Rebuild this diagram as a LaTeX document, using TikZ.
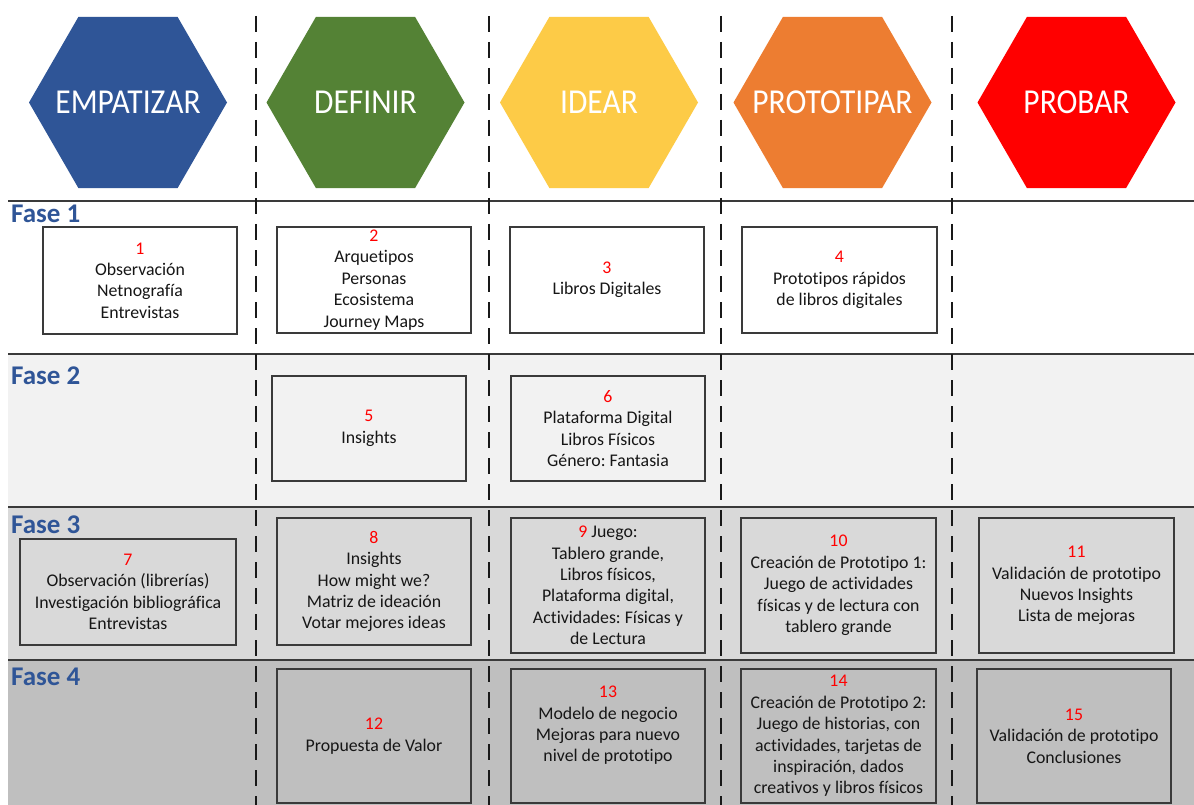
\documentclass[tikz,border=0pt]{standalone}
\usepackage{fontspec}
\setmainfont{Carlito}[Ligatures=NoCommon]
\newfontfamily\hexfont[FakeStretch=0.9]{Carlito}
\usetikzlibrary{shapes.geometric}
\definecolor{cblue}{HTML}{2F5597}
\definecolor{cgreen}{HTML}{548235}
\definecolor{cyellow}{HTML}{FDCB47}
\definecolor{corange}{HTML}{ED7D31}
\definecolor{cred}{HTML}{FF0000}
\definecolor{rowtwo}{HTML}{F2F2F2}
\definecolor{rowthree}{HTML}{D9D9D9}
\definecolor{rowfour}{HTML}{BFBFBF}
\definecolor{lineg}{HTML}{3A3A3A}
\definecolor{txtc}{HTML}{161616}
\newcommand\numr[1]{\textcolor{cred}{#1}}
\tikzset{
  hexa/.style={regular polygon, regular polygon sides=6, minimum size=198pt, inner sep=0pt},
  hext/.style={inner sep=0pt, text=white, font=\hexfont\fontsize{35}{35}\selectfont},
  boxn/.style={draw=lineg, line width=1.6pt, rectangle, inner sep=0pt, align=center, text=txtc, font=\frenchspacing\fontsize{17.8}{21.4}\selectfont},
  txtn/.style={inner sep=0pt, align=center, text=txtc, font=\frenchspacing\fontsize{17.8}{21.4}\selectfont},
  fase/.style={anchor=base west, inner sep=0pt, text=cblue, font=\fontsize{27}{27}\selectfont\bfseries},
  rowline/.style={draw=lineg, line width=2pt},
  colline/.style={draw=black!90, line width=2.4pt, dash pattern=on 16pt off 10pt}
}
\begin{document}
\begin{tikzpicture}[x=1pt,y=-1pt]
\useasboundingbox (0,0) rectangle (1194,805);
% row backgrounds
\fill[white] (0,0) rectangle (1194,805);
\fill[white] (8,201) rectangle (1194,354);
\fill[rowtwo] (8,354) rectangle (1194,507);
\fill[rowthree] (8,507) rectangle (1194,660);
\fill[rowfour] (8,660) rectangle (1194,805);
% row lines
\coordinate (r1l) at (8,201); \coordinate (r1r) at (1194,201);
\coordinate (r2l) at (8,354); \coordinate (r2r) at (1194,354);
\coordinate (r3l) at (8,507); \coordinate (r3r) at (1194,507);
\coordinate (r4l) at (8,660); \coordinate (r4r) at (1194,660);
\draw[rowline] (r1l) -- (r1r);
\draw[rowline] (r2l) -- (r2r);
\draw[rowline] (r3l) -- (r3r);
\draw[rowline] (r4l) -- (r4r);
% column dashed lines
\coordinate (c1t) at (256,16); \coordinate (c1b) at (256,805);
\coordinate (c2t) at (489,16); \coordinate (c2b) at (489,805);
\coordinate (c3t) at (721,16); \coordinate (c3b) at (721,805);
\coordinate (c4t) at (952,16); \coordinate (c4b) at (952,805);
\draw[colline] (c1t) -- (c1b);
\draw[colline] (c2t) -- (c2b);
\draw[colline] (c3t) -- (c3b);
\draw[colline] (c4t) -- (c4b);
% hexagons
\node[hexa, fill=cblue] (h1) at (128,102.5) {};
\node[hexa, fill=cgreen] (h2) at (365.5,102.5) {};
\node[hexa, fill=cyellow] (h3) at (599,102.5) {};
\node[hexa, fill=corange] (h4) at (832.5,102.5) {};
\node[hexa, fill=cred] (h5) at (1076.5,102.5) {};
\node[hext] (ht1) at (h1.center) {EMPATIZAR};
\node[hext] (ht2) at (h2.center) {DEFINIR};
\node[hext] (ht3) at (h3.center) {IDEAR};
\node[hext] (ht4) at (h4.center) {PROTOTIPAR};
\node[hext] (ht5) at (h5.center) {PROBAR};
% phase labels
\node[fase] (f1) at (11,223) {Fase 1};
\node[fase] (f2) at (11,384) {Fase 2};
\node[fase] (f3) at (11,533) {Fase 3};
\node[fase] (f4) at (11,685) {Fase 4};
% Fase 1 boxes
\node[boxn, minimum width=194pt, minimum height=107pt] (b1) at (140,280.5) {\numr{1}\\Observación\\Netnografía\\Entrevistas};
\node[boxn, minimum width=194pt, minimum height=106pt] (b2) at (374,280) {\numr{2}\\Arquetipos\\Personas\\Ecosistema\\Journey Maps};
\node[boxn, minimum width=194pt, minimum height=106pt] (b3) at (607,280) {\numr{3}\\Libros Digitales};
\node[boxn, minimum width=195pt, minimum height=106pt] (b4) at (839.5,280) {\numr{4}\\Prototipos rápidos\\de libros digitales};
% Fase 2 boxes
\node[boxn, minimum width=194pt, minimum height=105pt] (b5) at (369,428.5) {\numr{5}\\Insights};
\node[boxn, minimum width=194pt, minimum height=105pt] (b6) at (608,428.5) {\numr{6}\\Plataforma Digital\\Libros Físicos\\Género: Fantasia};
% Fase 3 boxes
\node[boxn, minimum width=216pt, minimum height=106pt] (b7) at (128,592) {\numr{7}\\Observación (librerías)\\Investigación bibliográfica\\Entrevistas};
\node[boxn, minimum width=194pt, minimum height=127pt] (b8) at (374,581.5) {\numr{8}\\Insights\\How might we?\\Matriz de ideación\\Votar mejores ideas};
\node[boxn, minimum width=194pt, minimum height=135pt] (b9) at (608,585.5) {\numr{9} Juego:\\Tablero grande,\\Libros físicos,\\Plataforma digital,\\Actividades: Físicas y\\de Lectura};
\node[boxn, minimum width=195pt, minimum height=135pt] (b10) at (838.5,585.5) {\numr{10}\\Creación de Prototipo 1:\\Juego de actividades\\físicas y de lectura con\\tablero grande};
\node[boxn, minimum width=195pt, minimum height=135pt] (b11) at (1076.5,585.5) {\numr{11}\\Validación de prototipo\\Nuevos Insights\\Lista de mejoras};
% Fase 4 boxes
\node[boxn, minimum width=194pt, minimum height=134pt] (b12) at (374,736) {\numr{12}\\Propuesta de Valor};
\node[boxn, minimum width=194pt, minimum height=134pt] (b13) at (608,736) {};
\node[txtn] (t13) at (608,725.5) {\numr{13}\\Modelo de negocio\\Mejoras para nuevo\\nivel de prototipo};
\node[boxn, minimum width=195pt, minimum height=134pt] (b14) at (838.5,736) {\numr{14}\\Creación de Prototipo 2:\\Juego de historias, con\\actividades, tarjetas de\\inspiración, dados\\creativos y libros físicos};
\node[boxn, minimum width=194pt, minimum height=134pt] (b15) at (1074,736) {\numr{15}\\Validación de prototipo\\Conclusiones};
\end{tikzpicture}
\end{document}
